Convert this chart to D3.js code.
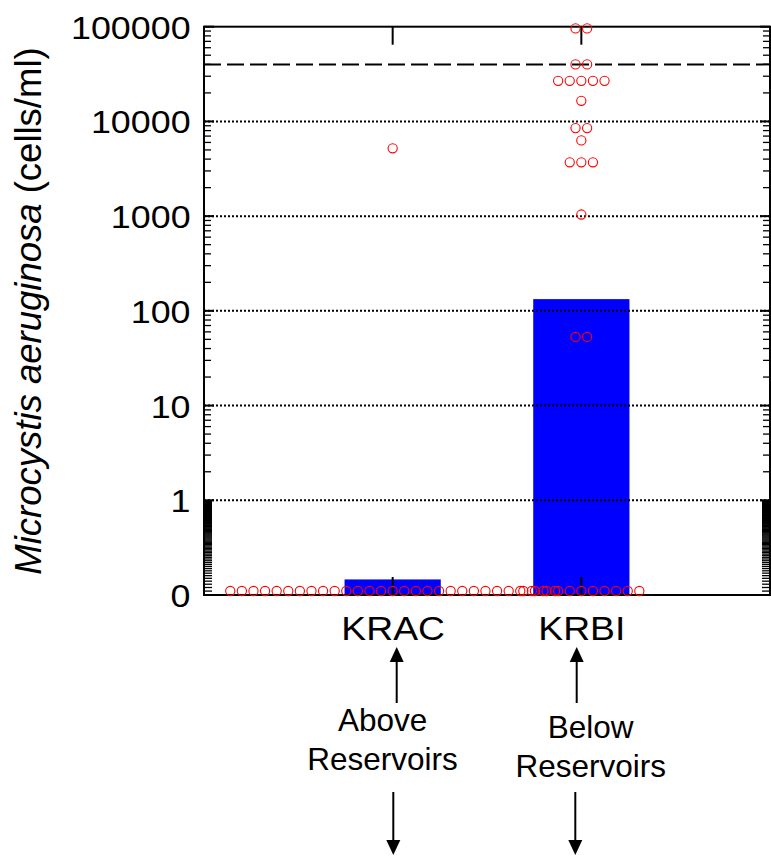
<!DOCTYPE html>
<html><head><meta charset="utf-8">
<script src="https://cdn.jsdelivr.net/npm/d3@7/dist/d3.min.js"></script>
<style>body{margin:0;background:#fff}svg{display:block}</style></head>
<body><svg id="chart" width="771" height="857"></svg>
<script>
// ---------- data ----------
const categories = ["KRAC", "KRBI"];
const barValues = [0.146, 133];
const kracSamples = [5200,
  0,0,0,0,0,0,0,0,0,0,0,0,0,0,0,0,0,0,0,0,0,0,0,0,0,0,0,0,0];
const krbiSamples = [96000, 96000, 40000, 40000,
  26800, 26800, 26800, 26800, 26800, 16500, 8500, 8500, 6300,
  3700, 3700, 3700, 1040, 53, 53,
  0,0,0,0,0,0,0,0,0,0,0];
const yTickValues = [0.1, 1, 10, 100, 1000, 10000, 100000];
const yTickLabels = ["0", "1", "10", "100", "1000", "10000", "100000"];
const gridValues = [1, 10, 100, 1000, 10000];
const thresholdValue = 40000;
const yTitleItalic = "Microcystis aeruginosa";
const yTitleRest = " (cells/ml)";
const annotationLines = [["Above", "Reservoirs"], ["Below", "Reservoirs"]];

// ---------- layout ----------
const svg = d3.select("#chart");
const L = 204, R = 770, T = 26.7, B = 595;
const x = d3.scaleLinear().domain([0, 3]).range([L, R]);
const y = d3.scaleLog().domain([0.1, 100000]).range([B, T]);
const FONT = "'Liberation Sans', Arial, Helvetica, sans-serif";

// bars
svg.append("g").selectAll("rect").data(categories).join("rect")
  .attr("x", (d, i) => x(i + 1) - (x(0.51) - x(0)) / 2)
  .attr("width", x(0.51) - x(0))
  .attr("y", (d, i) => y(barValues[i]))
  .attr("height", (d, i) => B - y(barValues[i]))
  .attr("fill", "#0000ff");

// grid lines
svg.append("g").selectAll("line").data(gridValues).join("line")
  .attr("x1", L).attr("x2", R)
  .attr("y1", d => y(d)).attr("y2", d => y(d))
  .attr("stroke", "#000").attr("stroke-width", 2)
  .attr("stroke-dasharray", "2,2");

// threshold dashed line
svg.append("line")
  .attr("x1", L).attr("x2", R)
  .attr("y1", y(thresholdValue)).attr("y2", y(thresholdValue))
  .attr("stroke", "#000").attr("stroke-width", 2)
  .attr("stroke-dasharray", "17,6");

// minor ticks (both sides, inward)
const minor = [];
for (let k = 1; k < 90; k++) minor.push({v: 0.1 + 0.01 * k, len: 8});
for (let e = 0; e < 5; e++) for (let k = 2; k <= 9; k++) minor.push({v: k * Math.pow(10, e), len: 7});
const ticksG = svg.append("g").attr("stroke", "#000").attr("stroke-width", 1.3);
ticksG.selectAll("line.l").data(minor).join("line").attr("class", "l")
  .attr("x1", L).attr("x2", d => L + d.len)
  .attr("y1", d => y(d.v)).attr("y2", d => y(d.v));
ticksG.selectAll("line.r").data(minor).join("line").attr("class", "r")
  .attr("x1", R).attr("x2", d => R - d.len)
  .attr("y1", d => y(d.v)).attr("y2", d => y(d.v));
// major ticks
const majG = svg.append("g").attr("stroke", "#000").attr("stroke-width", 2);
majG.selectAll("line.l").data(yTickValues).join("line").attr("class", "l")
  .attr("x1", L).attr("x2", L + 10).attr("y1", d => y(d)).attr("y2", d => y(d));
majG.selectAll("line.r").data(yTickValues).join("line").attr("class", "r")
  .attr("x1", R).attr("x2", R - 10).attr("y1", d => y(d)).attr("y2", d => y(d));
// category ticks top & bottom
const catTicks = svg.append("g").attr("stroke", "#000").attr("stroke-width", 2);
catTicks.selectAll("line.b").data(categories).join("line").attr("class", "b")
  .attr("x1", (d, i) => x(i + 1)).attr("x2", (d, i) => x(i + 1))
  .attr("y1", B).attr("y2", B - 18);
catTicks.selectAll("line.t").data(categories).join("line").attr("class", "t")
  .attr("x1", (d, i) => x(i + 1)).attr("x2", (d, i) => x(i + 1))
  .attr("y1", T).attr("y2", T + 18);

// frame
svg.append("rect").attr("x", L).attr("y", T).attr("width", R - L).attr("height", B - T)
  .attr("fill", "none").attr("stroke", "#000").attr("stroke-width", 2);

// points (swarm by equal values)
const spacing = 11.6;
[kracSamples, krbiSamples].forEach((arr, ci) => {
  const groups = d3.group(arr, v => v);
  const pts = [];
  groups.forEach((vals, v) => {
    const n = vals.length;
    vals.forEach((_, j) => pts.push({v, off: (j - (n - 1) / 2) * spacing}));
  });
  svg.append("g").selectAll("circle").data(pts).join("circle")
    .attr("cx", d => x(ci + 1) + d.off)
    .attr("cy", d => d.v === 0 ? y(0.1) - 4 : y(d.v))
    .attr("r", 4.6)
    .attr("fill", "none").attr("stroke", "#ff0000").attr("stroke-width", 1.1);
});

// y axis labels
const yAxis = d3.axisLeft(y).tickValues(yTickValues)
  .tickFormat((d, i) => yTickLabels[i]).tickSize(0).tickPadding(12);
const yg = svg.append("g").attr("transform", `translate(${L},0)`).call(yAxis);
yg.select(".domain").remove();
yg.selectAll("text").attr("font-family", FONT).attr("font-size", 32)
  .attr("fill", "#000").attr("dy", "0.36em")
  .attr("transform", "scale(1.12,1)");

// x axis labels
const xAxis = d3.axisBottom(x).tickValues([1, 2])
  .tickFormat(d => categories[d - 1]).tickSize(0).tickPadding(22);
const xg = svg.append("g").attr("transform", `translate(0,${B})`).call(xAxis);
xg.select(".domain").remove();
xg.selectAll("text").attr("font-family", FONT).attr("font-size", 33)
  .attr("fill", "#000").attr("transform", "scale(1.13,1)");

// y title
const yt = svg.append("text")
  .attr("transform", "translate(41,311) rotate(-90)")
  .attr("text-anchor", "middle")
  .attr("font-family", FONT).attr("font-size", 36.5).attr("fill", "#000");
yt.append("tspan").attr("font-style", "italic").text(yTitleItalic);
yt.append("tspan").text(yTitleRest);

// annotations with arrows
const annPos = [
  {cx: 382.6, base: 731, upX: 396.7, downX: 393.3},
  {cx: 590.7, base: 738.3, upX: 576.7, downX: 575.3}
];
annotationLines.forEach((lines, i) => {
  const p = annPos[i];
  const t = svg.append("text").attr("text-anchor", "middle")
    .attr("font-family", FONT).attr("font-size", 31.5).attr("fill", "#000");
  lines.forEach((s, j) => t.append("tspan").attr("x", p.cx).attr("y", p.base + j * 38.7).text(s));
  svg.append("line").attr("x1", p.upX).attr("x2", p.upX).attr("y1", 703).attr("y2", 658)
    .attr("stroke", "#000").attr("stroke-width", 2);
  svg.append("path").attr("d", `M${p.upX},647 L${p.upX - 7},662 L${p.upX + 7},662 Z`).attr("fill", "#000");
  svg.append("line").attr("x1", p.downX).attr("x2", p.downX).attr("y1", 792).attr("y2", 843)
    .attr("stroke", "#000").attr("stroke-width", 2);
  svg.append("path").attr("d", `M${p.downX},855 L${p.downX - 7},840 L${p.downX + 7},840 Z`).attr("fill", "#000");
});
</script></body></html>
